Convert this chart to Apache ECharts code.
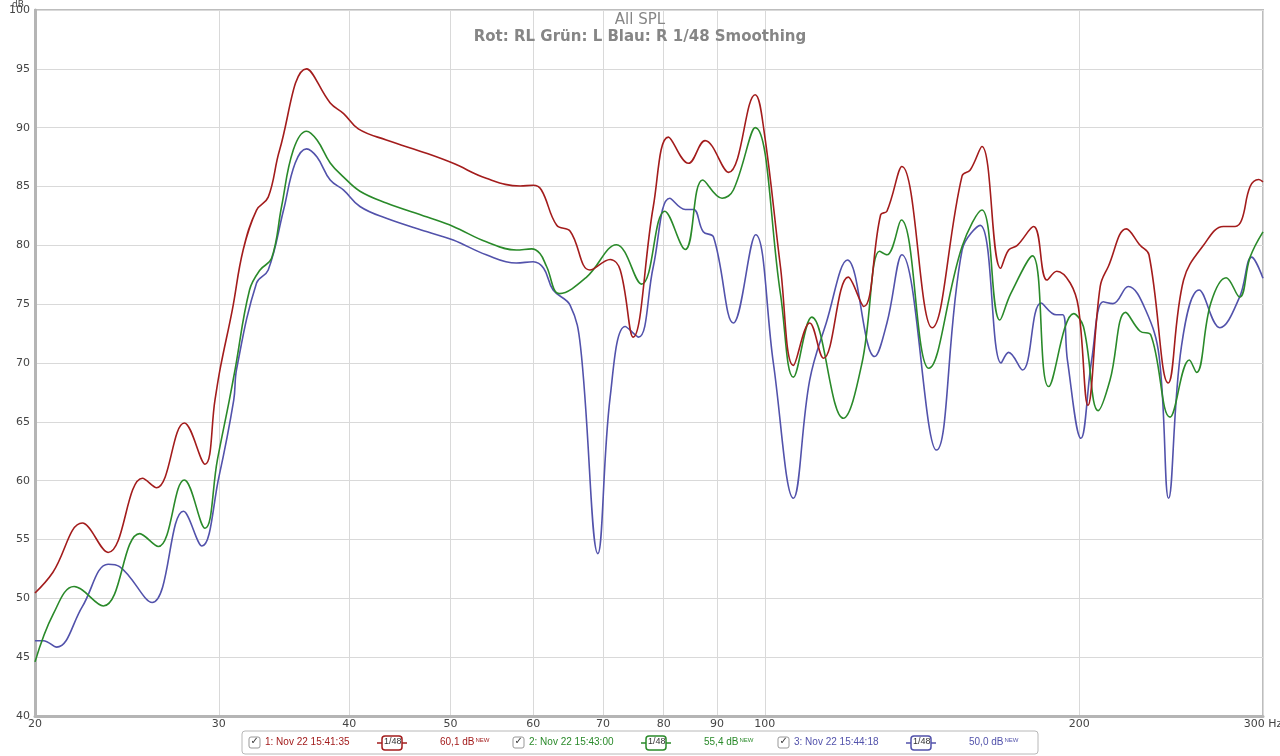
<!DOCTYPE html>
<html>
<head>
<meta charset="utf-8">
<script src="https://cdn.jsdelivr.net/npm/echarts@6/dist/echarts.min.js"></script>
<style>
html,body{margin:0;padding:0;background:#fff;}
#chart{width:1280px;height:756px;}
</style>
</head>
<body>
<div id="chart"></div>
<script>
// ---- Data (frequency in Hz, level in dB) ----
const xTicks = [20, 30, 40, 50, 60, 70, 80, 90, 100, 200, 300];

const redFreq = [20, 20.8, 22.2, 23.5, 25.35, 26.15, 27.8, 29.1, 29.75, 30.1, 30.9, 31.65, 32.6, 33.45, 34.3, 36.4, 38.35, 39.5, 40.8, 43.4, 47.5, 50.3, 54.1, 58.3, 60.0, 61.1, 63.2, 65.1, 68.0, 71.1, 72.7, 74.8, 78.2, 80.85, 84.5, 87.65, 92.3, 97.9, 99.8, 103.5, 106.5, 110.4, 113.8, 120.2, 124.4, 129.1, 130.9, 135.3, 144.6, 154.5, 157.3, 161.4, 168.2, 171.2, 174.5, 180.9, 186.3, 190.4, 196.1, 199.7, 203.9, 209.5, 213.3, 221.9, 228.8, 233.3, 243.4, 251.8, 263.1, 274.9, 282.1, 286.2, 291.6, 297.2, 300];
const redDb = [50.45, 52.2, 56.4, 53.9, 60.2, 59.4, 64.9, 61.4, 66.9, 69.6, 74.5, 79.6, 83.0, 84.1, 88.1, 95.0, 92.1, 91.2, 89.9, 88.95, 87.8, 86.97, 85.7, 85.04, 85.1, 84.7, 81.7, 81.2, 77.9, 78.8, 77.9, 72.2, 83.3, 89.2, 86.97, 88.9, 86.2, 92.8, 89.8, 78.2, 69.8, 73.4, 70.4, 77.3, 74.8, 82.6, 82.9, 86.7, 73.0, 85.9, 86.4, 88.4, 78.05, 79.6, 80.0, 81.6, 77.05, 77.8, 76.8, 74.7, 66.4, 76.5, 78.2, 81.4, 80.0, 79.2, 68.3, 77.05, 80.0, 81.6, 81.6, 82.15, 85.0, 85.6, 85.4];

const greenFreq = [20, 20.83, 21.8, 23.25, 25.2, 26.25, 27.8, 29.1, 29.9, 30.7, 31.1, 32.1, 32.85, 33.7, 34.45, 35.35, 36.4, 37.25, 38.35, 39.5, 40.95, 43.4, 47.5, 50.3, 54.1, 57.8, 59.8, 60.9, 61.8, 63.6, 67.5, 72.1, 76.2, 80.2, 83.9, 87.2, 91.0, 93.3, 97.9, 103.5, 106.5, 110.9, 118.9, 123.9, 128.8, 130.9, 135.1, 143.6, 154.5, 161.4, 167.9, 172.0, 180.4, 187.0, 197.6, 201.9, 208.6, 214.1, 221.6, 228.8, 234.2, 244.4, 255.0, 259.1, 267.4, 276.6, 284.9, 291.6, 300];
const greenDb = [44.6, 48.7, 51.0, 49.35, 55.5, 54.4, 60.06, 55.95, 61.75, 66.85, 69.5, 76.2, 77.9, 78.9, 83.3, 88.1, 89.7, 88.95, 87.0, 85.8, 84.6, 83.6, 82.4, 81.6, 80.3, 79.6, 79.7, 79.3, 78.2, 75.9, 77.3, 80.05, 76.7, 82.9, 79.65, 85.55, 84.0, 84.7, 90.0, 75.9, 68.8, 73.9, 65.3, 70.0, 79.5, 79.2, 82.15, 69.55, 79.9, 83.0, 73.65, 75.9, 79.1, 68.0, 74.2, 73.1, 65.95, 68.55, 74.3, 72.7, 72.4, 65.4, 70.25, 69.2, 75.1, 77.25, 75.6, 79.0, 81.15];

const blueFreq = [20, 20.37, 20.98, 22.2, 23.5, 24.1, 25.9, 27.75, 28.9, 30.0, 31.0, 31.2, 32.6, 33.45, 34.6, 35.5, 36.4, 37.25, 38.35, 39.5, 40.95, 43.4, 47.5, 50.3, 54.1, 57.8, 60.0, 61.4, 62.7, 65.1, 66.6, 69.2, 71.1, 73.5, 75.7, 78.2, 81.1, 83.9, 85.45, 87.3, 89.3, 93.3, 98.0, 101.9, 106.5, 110.4, 114.5, 120.0, 127.4, 130.9, 135.3, 146.0, 154.5, 160.8, 168.4, 171.2, 176.5, 183.9, 190.1, 192.9, 194.9, 200.8, 205.6, 210.9, 215.5, 222.9, 231.6, 238.6, 243.6, 250.6, 260.6, 272.8, 284.9, 292.6, 300];
const blueDb = [46.4, 46.4, 45.85, 49.3, 52.9, 52.7, 49.65, 57.4, 54.45, 60.3, 66.85, 69.5, 76.8, 77.9, 83.0, 87.0, 88.2, 87.5, 85.55, 84.7, 83.3, 82.3, 81.15, 80.45, 79.2, 78.5, 78.6, 78.05, 76.2, 74.9, 71.4, 53.8, 67.1, 73.1, 72.2, 78.2, 84.0, 83.05, 83.05, 81.15, 80.7, 73.4, 80.9, 70.0, 58.5, 68.55, 73.4, 78.75, 70.55, 73.4, 79.2, 62.6, 79.6, 81.7, 70.0, 70.9, 69.4, 75.1, 74.1, 74.1, 70.25, 63.6, 70.25, 75.2, 75.05, 76.5, 74.5, 70.55, 58.5, 71.4, 76.2, 73.0, 75.6, 79.0, 77.2];

const seriesNames = ['1: Nov 22 15:41:35', '2: Nov 22 15:43:00', '3: Nov 22 15:44:18'];
const seriesLevels = ['60,1 dB', '55,4 dB', '50,0 dB'];
const colors = ['#a31c1c', '#2a8a2a', '#5252ab'];

// ---- Build ----
const toPairs = (fs, ds) => fs.map((f, i) => [Math.log10(f), ds[i]]);
const logTicks = xTicks.map(v => Math.log10(v));

const chart = echarts.init(document.getElementById('chart'), null, {renderer: 'canvas'});
const FONT = 'DejaVu Sans';

function legendItem(i, x0) {
  const c = colors[i];
  return [
    {type: 'rect', shape: {x: x0, y: 737, width: 11, height: 11, r: 2}, style: {fill: '#fff', stroke: '#999', lineWidth: 1}},
    {type: 'text', x: x0 + 1.5, y: 736.5, style: {text: '✓', fill: '#333', font: '10px ' + FONT}},
    {type: 'text', x: x0 + 16, y: 737, style: {text: seriesNames[i], fill: c, font: '10px "Liberation Sans"'}},
    {type: 'line', shape: {x1: x0 + 128, y1: 743, x2: x0 + 158, y2: 743}, style: {stroke: c, lineWidth: 1.5}},
    {type: 'rect', shape: {x: x0 + 133, y: 736, width: 20, height: 14, r: 3}, style: {fill: '#fff', stroke: c, lineWidth: 1.5}},
    {type: 'text', x: x0 + 135, y: 737.5, style: {text: '1/48', fill: '#333', font: '9px "Liberation Sans"'}},
    {type: 'text', x: x0 + 191, y: 737, style: {text: '{a|' + seriesLevels[i] + '}{b|NEW}', rich: {a: {fill: c, font: '10px "Liberation Sans"'}, b: {fill: c, font: '6px "Liberation Sans"', verticalAlign: 'top', padding: [0, 0, 5, 1]}}}}
  ];
}

const option = {
  animation: false,
  backgroundColor: '#ffffff',
  title: {
    text: 'All SPL',
    subtext: 'Rot: RL Grün: L Blau: R 1/48 Smoothing',
    left: 'center',
    top: 8,
    itemGap: 2,
    textStyle: {fontFamily: FONT, fontSize: 15, fontWeight: 'normal', color: '#868686'},
    subtextStyle: {fontFamily: FONT, fontSize: 15, fontWeight: 'bold', color: '#868686'}
  },
  grid: {left: 35, right: 17, top: 10, bottom: 40, outerBoundsMode: 'none', containLabel: false, show: true, borderColor: '#bdbdbd', borderWidth: 2, backgroundColor: 'transparent'},
  xAxis: {
    type: 'value',
    min: Math.log10(20),
    max: Math.log10(300),
    axisLine: {show: true, lineStyle: {color: '#b5b5b5', width: 3}},
    axisTick: {show: false, customValues: logTicks},
    axisLabel: {
      customValues: logTicks,
      color: '#444', fontFamily: FONT, fontSize: 11, margin: 3,
      formatter: v => { const f = Math.round(Math.pow(10, v)); return f === 300 ? '300 Hz' : String(f); }
    },
    splitLine: {show: true, lineStyle: {color: '#d9d9d9', width: 1}}
  },
  yAxis: {
    type: 'value',
    min: 40, max: 100, interval: 5,
    axisLine: {show: true, lineStyle: {color: '#b5b5b5', width: 3}},
    axisTick: {show: false},
    axisLabel: {color: '#444', fontFamily: FONT, fontSize: 11, margin: 5},
    splitLine: {show: true, lineStyle: {color: '#d9d9d9', width: 1}}
  },
  series: [
    {name: seriesNames[0], type: 'line', data: toPairs(redFreq, redDb)},
    {name: seriesNames[1], type: 'line', data: toPairs(greenFreq, greenDb)},
    {name: seriesNames[2], type: 'line', data: toPairs(blueFreq, blueDb)}
  ].map((s, i) => Object.assign(s, {
    showSymbol: false, smooth: 0.4,
    lineStyle: {color: colors[i], width: 1.6}, itemStyle: {color: colors[i]}, z: 3 - i
  })),
  graphic: [
    {type: 'text', left: 12, top: 0, z: 100, style: {text: 'dB', fill: '#444', font: '9px ' + FONT}},
    {type: 'rect', shape: {x: 242, y: 731, width: 796, height: 23, r: 3}, style: {fill: '#fff', stroke: '#b8b8b8', lineWidth: 1}},
    ...legendItem(0, 249),
    ...legendItem(1, 513),
    ...legendItem(2, 778)
  ]
};
chart.setOption(option);
</script>
</body>
</html>
